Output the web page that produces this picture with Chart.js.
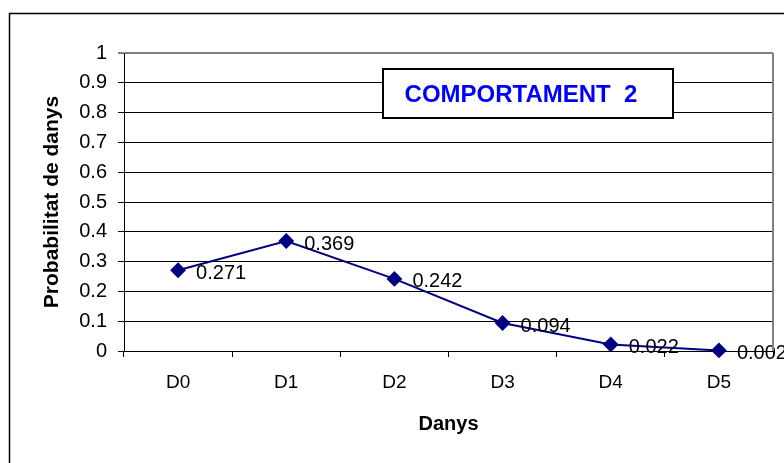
<!DOCTYPE html>
<html>
<head>
<meta charset="utf-8">
<script src="https://cdn.jsdelivr.net/npm/chart.js@4/dist/chart.umd.min.js"></script>
<style>
    body { margin: 0; background: #ffffff; }
    #comportamentChart { display: block; }
</style>
</head>
<body>
<canvas id="comportamentChart" width="784" height="463"></canvas>
<script>
// Dades del grafic
const categories = ['D0', 'D1', 'D2', 'D3', 'D4', 'D5'];
const probabilitats = [0.271, 0.369, 0.242, 0.094, 0.022, 0.002];
const chartTitle = 'COMPORTAMENT  2';
const xTitle = 'Danys';
const yTitle = 'Probabilitat de danys';

Chart.defaults.font.family = "'Liberation Sans', Arial, sans-serif";
Chart.defaults.color = '#000000';

// Marc exterior, quadre del titol i vora grisa de l'area
const framePlugin = {
    id: 'frame',
    beforeDraw(chart) {
        const ctx = chart.ctx;
        ctx.save();
        ctx.fillStyle = '#ffffff';
        ctx.fillRect(0, 0, chart.width, chart.height);
        ctx.strokeStyle = '#000000';
        ctx.lineWidth = 1.5;
        ctx.beginPath();
        ctx.moveTo(9.5, chart.height);
        ctx.lineTo(9.5, 13.5);
        ctx.lineTo(chart.width, 13.5);
        ctx.stroke();
        ctx.restore();
    },
    afterDraw(chart) {
        const ctx = chart.ctx;
        const area = chart.chartArea;
        ctx.save();
        // vora dreta de l'area del grafic
        ctx.strokeStyle = '#808080';
        ctx.lineWidth = 2;
        ctx.beginPath();
        ctx.moveTo(area.right, area.top);
        ctx.lineTo(area.right, area.bottom);
        ctx.stroke();
        // quadre del titol
        ctx.fillStyle = '#ffffff';
        ctx.fillRect(383, 69, 290, 49);
        ctx.strokeStyle = '#000000';
        ctx.lineWidth = 2;
        ctx.strokeRect(383, 69, 290, 49);
        ctx.fillStyle = '#0000ff';
        ctx.font = "bold 24px 'Liberation Sans', Arial, sans-serif";
        ctx.textAlign = 'center';
        ctx.textBaseline = 'middle';
        ctx.fillText(chartTitle, 521, 95);
        ctx.restore();
    }
};

// Etiquetes de valor al costat de cada punt
const valueLabels = {
    id: 'valueLabels',
    afterDatasetsDraw(chart) {
        const ctx = chart.ctx;
        const meta = chart.getDatasetMeta(0);
        ctx.save();
        ctx.fillStyle = '#000000';
        ctx.font = "20px 'Liberation Sans', Arial, sans-serif";
        ctx.textAlign = 'left';
        ctx.textBaseline = 'middle';
        meta.data.forEach((pt, i) => {
            ctx.fillText(String(probabilitats[i]), pt.x + 18, pt.y + 3);
        });
        ctx.restore();
    }
};

const ctx = document.getElementById('comportamentChart').getContext('2d');
const comportamentChart = new Chart(ctx, {
    type: 'line',
    data: {
        labels: categories,
        datasets: [{
            data: probabilitats,
            borderColor: '#000080',
            backgroundColor: '#000080',
            borderWidth: 2,
            pointStyle: 'rectRot',
            pointRadius: 6.5,
            pointBackgroundColor: '#000080',
            pointBorderColor: '#000080',
            tension: 0,
            clip: false
        }]
    },
    options: {
        responsive: false,
        animation: false,
        layout: {
            padding: { left: 0, top: 53, right: 11, bottom: 0 }
        },
        plugins: {
            legend: { display: false },
            tooltip: { enabled: false }
        },
        scales: {
            x: {
                offset: true,
                grid: {
                    display: true,
                    offset: true,
                    drawOnChartArea: false,
                    color: '#000000',
                    tickLength: 6
                },
                border: { color: '#000000', width: 1 },
                ticks: {
                    font: { size: 19 },
                    padding: 14,
                    maxRotation: 0
                },
                title: {
                    display: true,
                    text: xTitle,
                    font: { size: 20, weight: 'bold' },
                    padding: { top: 0, bottom: 27 }
                },
                afterFit(scale) { scale.height = 112; }
            },
            y: {
                min: 0,
                max: 1,
                grid: {
                    color: (c) => c.tick && c.tick.value === 1 ? '#808080' : '#000000',
                    lineWidth: (c) => c.tick && c.tick.value === 1 ? 2 : 1,
                    tickLength: 6
                },
                border: { color: '#000000', width: 1 },
                ticks: {
                    stepSize: 0.1,
                    font: { size: 20 },
                    padding: 11,
                    callback: (v) => String(Math.round(v * 10) / 10)
                },
                title: {
                    display: true,
                    text: yTitle,
                    font: { size: 21, weight: 'bold' },
                    padding: { top: 40, bottom: 0 }
                },
                afterFit(scale) { scale.width = 124; }
            }
        }
    },
    plugins: [framePlugin, valueLabels]
});
</script>
</body>
</html>
